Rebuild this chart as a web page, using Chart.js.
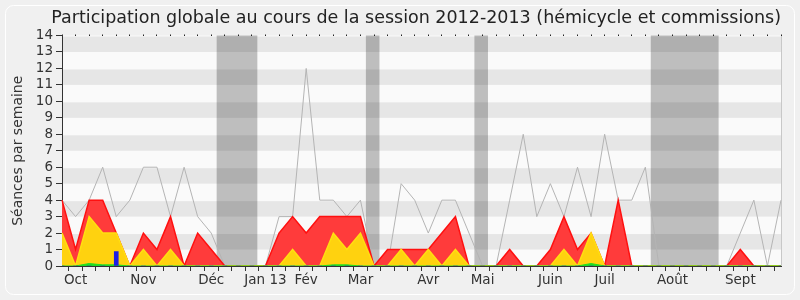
<!DOCTYPE html>
<html>
<head>
<meta charset="utf-8">
<script src="https://cdn.jsdelivr.net/npm/chart.js@4.4.1/dist/chart.umd.min.js"></script>
<style>
  html, body { margin: 0; padding: 0; background: #f0f0f0; }
  #wrap { width: 800px; height: 300px; }
</style>
</head>
<body>
<div id="wrap"><canvas id="chart" width="800" height="300"></canvas></div>
<script>
// one entry per week, session 2012-2013 (54 weeks)
const monthNames = ['Oct', 'Nov', 'Déc', 'Jan 13', 'Fév', 'Mar', 'Avr', 'Mai', 'Juin', 'Juil', 'Août', 'Sept'];
const monthWeek = [1, 6, 11, 15, 18, 22, 27, 31, 36, 40, 45, 50];

// grey line: total sessions of the week
const totalSeances = [4, 3, 4, 6, 3, 4, 6, 6, 3, 6, 3, 2, 0, 0, 0, 0, 3, 3, 12, 4, 4, 3, 4, 0, 0, 5, 4, 2, 4, 4, 2, 0, 0, 4, 8, 3, 5, 3, 6, 3, 8, 4, 4, 6, 0, 0, 0, 0, 0, 0, 2, 4, 0, 4];
// red area: presence
const presences = [4, 1, 4, 4, 2, 0, 2, 1, 3, 0, 2, 1, 0, 0, 0, 0, 2, 3, 2, 3, 3, 3, 3, 0, 1, 1, 1, 1, 2, 3, 0, 0, 0, 1, 0, 0, 1, 3, 1, 2, 0, 4, 0, 0, 0, 0, 0, 0, 0, 0, 1, 0, 0, 0];
// yellow area
const hemicycle = [2, 0, 3, 2, 2, 0, 1, 0, 1, 0, 0, 0, 0, 0, 0, 0, 0, 1, 0, 0, 2, 1, 2, 0, 0, 1, 0, 1, 0, 1, 0, 0, 0, 0, 0, 0, 0, 1, 0, 2, 0, 0, 0, 0, 0, 0, 0, 0, 0, 0, 0, 0, 0, 0];
// green area
const interventions = [0, 0, 0.15, 0.07, 0.07, 0, 0, 0, 0, 0, 0, 0, 0, 0, 0, 0, 0, 0, 0, 0, 0.07, 0.07, 0, 0, 0, 0, 0, 0, 0, 0, 0, 0, 0, 0, 0, 0, 0, 0, 0, 0.15, 0, 0, 0, 0, 0, 0, 0, 0, 0, 0, 0, 0, 0, 0];
// blue bar
const questions = [0, 0, 0, 0, 0.87, 0, 0, 0, 0, 0, 0, 0, 0, 0, 0, 0, 0, 0, 0, 0, 0, 0, 0, 0, 0, 0, 0, 0, 0, 0, 0, 0, 0, 0, 0, 0, 0, 0, 0, 0, 0, 0, 0, 0, 0, 0, 0, 0, 0, 0, 0, 0, 0, 0];

// parliamentary holidays (in week units)
const vacStart = [11.4, 22.4, 30.4, 43.4];
const vacEnd = [14.4, 23.4, 31.4, 48.4];

const weekLabels = totalSeances.map((_, i) => {
  const k = monthWeek.indexOf(i);
  return k >= 0 ? monthNames[k] : '';
});

const font = 'DejaVu Sans, sans-serif';
const ink = '#333333';

const backdrop = {
  id: 'backdrop',
  beforeDraw(chart) {
    const { ctx, chartArea: a, scales } = chart;
    const y = scales.y, x = scales.x;
    ctx.save();
    // rounded frame
    ctx.strokeStyle = '#ffffff';
    ctx.lineWidth = 1;
    ctx.beginPath();
    ctx.roundRect(5.5, 5.5, 789, 289, 8);
    ctx.stroke();
    ctx.fillStyle = '#fafafa';
    ctx.fillRect(a.left, a.top, a.right - a.left, a.bottom - a.top);
    ctx.fillStyle = '#e6e6e6';
    for (let v = 1; v < 14; v += 2) {
      const top = y.getPixelForValue(v + 1), bot = y.getPixelForValue(v);
      ctx.fillRect(a.left, top + 1, a.right - a.left, bot - top - 1);
    }
    ctx.fillStyle = 'rgba(0,0,0,0.24)';
    vacStart.forEach((s, i) => {
      const l = x.getPixelForValue(s), r = x.getPixelForValue(vacEnd[i]);
      ctx.fillRect(l, a.top, r - l, a.bottom - a.top);
    });
    ctx.strokeStyle = '#c8c8c8';
    ctx.beginPath();
    ctx.moveTo(a.right + 0.5, a.top);
    ctx.lineTo(a.right + 0.5, a.bottom);
    ctx.stroke();
    ctx.restore();
  }
};

new Chart(document.getElementById('chart'), {
  type: 'line',
  data: {
    labels: weekLabels,
    datasets: [
      { data: totalSeances, borderColor: '#b4b4b4', borderWidth: 1, fill: false, pointRadius: 0, tension: 0, xAxisID: 'x', order: 5 },
      { type: 'bar', data: questions, backgroundColor: '#1e1ee6', barThickness: 4, xAxisID: 'x', order: 1 },
      { data: interventions, borderColor: '#22dd22', backgroundColor: '#22dd22', borderWidth: 1, fill: 'origin', pointRadius: 0, tension: 0, xAxisID: 'x', order: 2 },
      { data: hemicycle, borderColor: '#ffdf10', backgroundColor: '#ffd20f', borderWidth: 1.5, fill: 'origin', pointRadius: 0, tension: 0, xAxisID: 'x', order: 3 },
      { data: presences, borderColor: '#ff1010', backgroundColor: '#ff3b3b', borderWidth: 1.5, fill: 'origin', pointRadius: 0, tension: 0, xAxisID: 'x', order: 4 }
    ]
  },
  options: {
    responsive: false,
    animation: false,
    layout: { padding: { left: 0, right: 19, top: 0, bottom: 0 } },
    scales: {
      x: {
        type: 'category',
        offset: false,
        grid: { drawOnChartArea: false, tickLength: 5, color: ink },
        border: { color: ink, width: 1 },
        ticks: { autoSkip: false, maxRotation: 0, padding: 1, color: ink, font: { family: font, size: 13.5 } },
        afterFit: s => { s.height = 34; }
      },
      xTop: {
        type: 'category',
        position: 'top',
        offset: false,
        grid: { drawOnChartArea: false, tickLength: 1, color: '#222' },
        border: { display: false },
        ticks: { display: false },
        afterFit: s => { s.height = 0; }
      },
      y: {
        min: 0,
        max: 14,
        grid: { drawOnChartArea: false, tickLength: 6, color: ink },
        border: { color: ink, width: 1 },
        ticks: { stepSize: 1, autoSkip: false, padding: 3, color: ink, font: { family: font, size: 13.5 } },
        title: { display: true, text: 'Séances par semaine', color: ink, font: { family: font, size: 14 }, padding: { top: 10, bottom: 0 } },
        afterFit: s => { s.width = 62; }
      }
    },
    plugins: {
      legend: { display: false },
      tooltip: { enabled: false },
      title: {
        display: true,
        align: 'end',
        text: 'Participation globale au cours de la session 2012-2013 (hémicycle et commissions)',
        color: '#222',
        font: { family: font, size: 17.5, weight: 'normal' },
        padding: { top: 8, bottom: 6.5 }
      }
    }
  },
  plugins: [backdrop]
});
</script>
</body>
</html>
